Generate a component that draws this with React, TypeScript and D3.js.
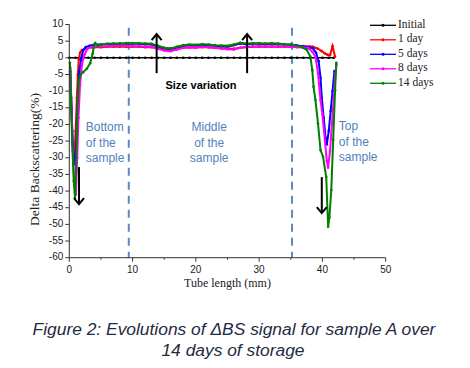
import React from "react";
import * as d3 from "d3";

type P = [number, number];

const xTicks = [0, 10, 20, 30, 40, 50];
const xMinor = [5, 15, 25, 35, 45];
const yTicks = [10, 5, 0, -5, -10, -15, -20, -25, -30, -35, -40, -45, -50, -55, -60];

const seriesNames = ["Initial", "1 day", "5 days", "8 days", "14 days"];
const seriesColors = ["#000000", "#ff0000", "#0000ff", "#ff00ff", "#008000"];

const initial: P[] = [
  [0, 0], [1, 0], [2, 0], [3, 0], [4, 0], [5, 0], [6, 0], [7, 0], [8, 0], [9, 0], [10, 0],
  [11, 0], [12, 0], [13, 0], [14, 0], [15, 0], [16, 0], [17, 0], [18, 0], [19, 0], [20, 0],
  [21, 0], [22, 0], [23, 0], [24, 0], [25, 0], [26, 0], [27, 0], [28, 0], [29, 0], [30, 0],
  [31, 0], [32, 0], [33, 0], [34, 0], [35, 0], [36, 0], [37, 0], [38, 0], [39, 0], [40, 0],
  [41, 0], [41.8, 0],
];

const day1: P[] = [
  [0.15, -3], [0.3, -12], [0.45, -22], [0.6, -28], [0.8, -30], [1.0, -22], [1.2, -12], [1.35, -5],
  [1.5, -0.5], [1.7, 1.5], [2.0, 2.3], [2.5, 2.8], [3, 3.0], [4, 3.2], [5, 3.2], [6, 3.3], [7, 3.3],
  [8, 3.3], [9, 3.3], [10, 3.3], [11, 3.3], [12, 3.2], [13, 3.2], [14, 2.9], [15, 2.5], [16, 2.4],
  [17, 2.7], [18, 3.1], [19, 3.2], [20, 3.1], [21, 3.2], [22, 3.2], [23, 3.0], [24, 2.9], [25, 2.8],
  [26, 2.7], [27, 3.0], [28, 3.2], [29, 3.3], [30, 3.3], [31, 3.3], [32, 3.3], [33, 3.3], [34, 3.3],
  [35, 3.3], [36, 3.4], [37, 3.5], [38, 3.4], [38.5, 3.3], [39.2, 2.8], [39.9, 2.0], [40.4, 1.3],
  [40.8, 0.9], [41.2, 0.8], [41.6, 3.5], [42, 0.3],
];

const days5: P[] = [
  [0.15, -4], [0.35, -15], [0.55, -26], [0.8, -32], [1.0, -30], [1.2, -20], [1.4, -10], [1.6, -4],
  [1.9, 0], [2.2, 2.3], [2.6, 3.2], [3.2, 3.6], [4, 4.0], [5, 4.0], [6, 4.1], [7, 4.1], [8, 4.2],
  [9, 4.2], [10, 4.2], [11, 4.2], [12, 4.1], [13, 4.0], [14, 3.4], [15, 2.9], [16, 2.7], [17, 3.1],
  [18, 3.6], [19, 3.8], [20, 3.7], [21, 3.9], [22, 3.8], [23, 3.6], [24, 3.5], [25, 3.4], [26, 3.8],
  [27, 4.3], [28, 4.1], [29, 4.2], [30, 4.2], [31, 4.1], [32, 4.2], [33, 4.1], [34, 4.0], [35, 3.9],
  [36, 3.7], [37, 3.4], [38, 3.1], [38.5, 2.9], [39.0, 1.5], [39.4, -1], [39.7, -6], [39.9, -12],
  [40.2, -18], [40.5, -24], [40.7, -26], [41.0, -22], [41.3, -16], [41.6, -10], [41.9, -4],
];

const days8: P[] = [
  [0.15, -4], [0.35, -16], [0.55, -28], [0.8, -38], [1.05, -41], [1.25, -30], [1.45, -18], [1.7, -8],
  [2.0, -2], [2.4, 1], [2.9, 2.8], [3.5, 3.2], [4, 3.4], [5, 3.5], [6, 3.5], [7, 3.6], [8, 3.6],
  [9, 3.6], [10, 3.5], [11, 3.5], [12, 3.4], [13, 3.3], [14, 2.7], [15, 2.2], [16, 2.0], [17, 2.5],
  [18, 3.0], [19, 3.2], [20, 3.1], [21, 3.3], [22, 3.2], [23, 3.0], [24, 2.8], [25, 2.6], [26, 2.5],
  [27, 3.0], [28, 3.3], [29, 3.4], [30, 3.5], [31, 3.4], [32, 3.5], [33, 3.4], [34, 3.4], [35, 3.3],
  [36, 3.2], [37, 3.1], [37.8, 2.9], [38.4, 1.8], [38.9, 0.3], [39.3, -4.7], [39.7, -12.7], [40.0, -17],
  [40.4, -25], [40.7, -31], [40.9, -33], [41.2, -28], [41.5, -20], [41.8, -12], [42.0, -6], [42.2, -2],
];

const days14: P[] = [
  [0.1, -1.5], [0.25, -12], [0.45, -25], [0.7, -37], [0.9, -42], [1.05, -34], [1.2, -22], [1.35, -12],
  [1.5, -7], [1.8, -5], [2.2, -4.3], [2.8, -3.2], [3.3, -1.6], [3.7, 1.3], [3.9, 3.8], [4.1, 4.4],
  [4.5, 3.6], [5, 4.0], [6, 4.2], [7, 4.3], [8, 4.3], [9, 4.4], [10, 4.4], [11, 4.4], [12, 4.3],
  [13, 4.2], [14, 3.6], [15, 3.0], [16, 2.8], [17, 3.3], [18, 3.8], [19, 4.0], [20, 3.9], [21, 4.1],
  [22, 4.0], [23, 3.8], [24, 3.7], [25, 3.6], [26, 4.0], [27, 4.5], [28, 4.3], [29, 4.4], [30, 4.4],
  [31, 4.3], [32, 4.4], [33, 4.3], [34, 4.1], [35, 4.0], [35.8, 3.8], [36.6, 3.3], [37.5, 2.5],
  [38.1, 0.3], [38.4, -3.7], [38.6, -8.7], [38.9, -12.7], [39.3, -19.7], [39.7, -27.7], [40.1, -29.7],
  [40.6, -35.7], [40.9, -50.7], [41.1, -48], [41.4, -39.7], [41.7, -24.7], [42.0, -9.7], [42.2, -1.5],
];

const seriesData: P[][] = [initial, day1, days5, days8, days14];

const dashedAt = [9.4, 35.2];

const W = 470;
const H = 368;

export default function App() {
  const x = d3.scaleLinear().domain([0, 50]).range([69.3, 385.7]);
  const y = d3.scaleLinear().domain([-60, 10]).range([257.7, 24.5]);
  const line = d3
    .line<P>()
    .x((d) => x(d[0]))
    .y((d) => y(d[1]));

  const sans = "'Liberation Sans', Arial, sans-serif";
  const serif = "'Liberation Serif', 'Times New Roman', serif";
  const annBlue = "#4f81bd";

  const upArrow = (mx: number, v0: number, v1: number, key: string) => {
    const px = x(mx);
    const y0 = y(v0);
    const y1 = y(v1);
    return (
      <g key={key} stroke="#000" strokeWidth={2} fill="none">
        <line x1={px} y1={y0} x2={px} y2={y1} />
        <polyline points={`${px - 5},${y1 + 6} ${px},${y1} ${px + 5},${y1 + 6}`} />
      </g>
    );
  };
  const downArrow = (mx: number, v0: number, v1: number, key: string) => {
    const px = x(mx);
    const y0 = y(v0);
    const y1 = y(v1);
    return (
      <g key={key} stroke="#000" strokeWidth={2} fill="none">
        <line x1={px} y1={y0} x2={px} y2={y1} />
        <polyline points={`${px - 5},${y1 - 6} ${px},${y1} ${px + 5},${y1 - 6}`} />
      </g>
    );
  };

  const label3 = (lines: string[], mx: number, vs: number[], anchor: string, key: string) => (
    <g key={key} fontFamily={sans} fontSize={12} fill={annBlue} textAnchor={anchor}>
      {lines.map((t, i) => (
        <text key={i} x={x(mx)} y={y(vs[i])} dominantBaseline="middle">
          {t}
        </text>
      ))}
    </g>
  );

  return (
    <div style={{ position: "absolute", left: 0, top: 0 }}>
      <svg width={W} height={H} style={{ display: "block", background: "#fff" }}>
        {dashedAt.map((d) => (
          <line
            key={d}
            x1={x(d)}
            x2={x(d)}
            y1={y(9)}
            y2={y(-60)}
            stroke="#5b8ac4"
            strokeWidth={2}
            strokeDasharray="8,6"
          />
        ))}

        {seriesData.map((s, i) => (
          <g key={seriesNames[i]}>
            <path d={line(s) || ""} fill="none" stroke={seriesColors[i]} strokeWidth={i === 0 ? 1.6 : 2} />
            {s.map((p, j) => (
              <circle key={j} cx={x(p[0])} cy={y(p[1])} r={1.3} fill={seriesColors[i]} />
            ))}
          </g>
        ))}

        <g stroke="#333" strokeWidth={1}>
          <line x1={x(0)} x2={x(0)} y1={y(10)} y2={y(-60)} />
          <line x1={x(0)} x2={x(50)} y1={y(-60)} y2={y(-60)} />
          {yTicks.map((t) => (
            <line key={t} x1={x(0) - 4} x2={x(0)} y1={y(t)} y2={y(t)} />
          ))}
          {xTicks.map((t) => (
            <line key={t} x1={x(t)} x2={x(t)} y1={y(-60)} y2={y(-60) + 4} />
          ))}
          {xMinor.map((t) => (
            <line key={t} x1={x(t)} x2={x(t)} y1={y(-60)} y2={y(-60) + 2} />
          ))}
        </g>
        <g fontFamily={sans} fontSize={10} fill="#222">
          {yTicks.map((t) => (
            <text key={t} x={x(0) - 6} y={y(t)} textAnchor="end" dominantBaseline="middle">
              {t}
            </text>
          ))}
          {xTicks.map((t) => (
            <text key={t} x={x(t)} y={y(-60) + 15} textAnchor="middle">
              {t}
            </text>
          ))}
        </g>
        <text x={x(25)} y={287} textAnchor="middle" fontFamily={serif} fontSize={12} fill="#222">
          Tube length (mm)
        </text>
        <text
          transform={`translate(39, ${y(-30.5)}) rotate(-90)`}
          textAnchor="middle"
          fontFamily={serif}
          fontSize={13.5}
          fill="#222"
        >
          Delta Backscattering(%)
        </text>

        {seriesNames.map((n, i) => {
          const ly = 25.3 + i * 14.5;
          return (
            <g key={n}>
              <line x1={370} x2={396} y1={ly} y2={ly} stroke={seriesColors[i]} strokeWidth={1.3} />
              <circle cx={383} cy={ly} r={1.5} fill={seriesColors[i]} />
              <text x={398} y={ly} dominantBaseline="middle" fontFamily={serif} fontSize={11.5} fill="#222">
                {n}
              </text>
            </g>
          );
        })}

        {upArrow(13.8, -4.6, 7.1, "u1")}
        {upArrow(28.1, -4.6, 7.1, "u2")}
        {downArrow(1.53, -32.8, -43.9, "d1")}
        {downArrow(39.9, -35.8, -46.6, "d2")}
        <text
          x={x(20.8)}
          y={y(-8.6)}
          textAnchor="middle"
          dominantBaseline="middle"
          fontFamily={sans}
          fontSize={11}
          fontWeight="bold"
          fill="#000"
        >
          Size variation
        </text>
        {label3(["Bottom", "of the", "sample"], 2.6, [-21.1, -25.9, -30.4], "start", "b")}
        {label3(["Middle", "of the", "sample"], 22.1, [-21.1, -25.9, -30.4], "middle", "m")}
        {label3(["Top", "of the", "sample"], 42.6, [-20.7, -25.5, -30], "start", "t")}

        <g fontFamily={sans} fontSize={17.4} fontStyle="italic" fill="#1f2a44" textAnchor="middle">
          <text x={234} y={335}>
            Figure 2: Evolutions of ΔBS signal for sample A over
          </text>
          <text x={233} y={356}>
            14 days of storage
          </text>
        </g>
      </svg>
    </div>
  );
}
